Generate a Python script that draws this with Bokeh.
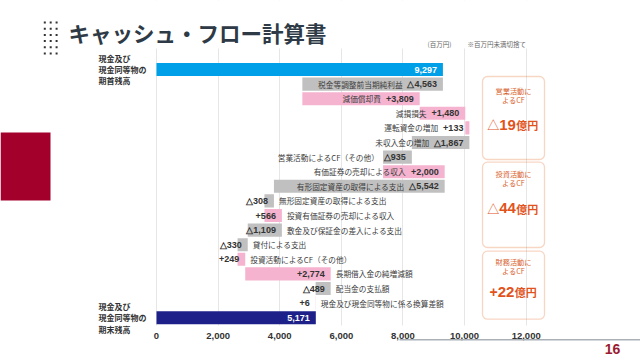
import numpy as np
from bokeh.plotting import figure
from bokeh.models import (ColumnDataSource, Range1d, Label, BoxAnnotation, FixedTicker,
                          NumeralTickFormatter, PrintfTickFormatter, LinearAxis)
from bokeh.core.properties import value
from bokeh.embed import file_html
from bokeh.resources import INLINE

# ---------------- data ----------------
title = "キャッシュ・フロー計算書"
unit_note = "(百万円)"
round_note = "※百万円未満切捨て"
page_no = "16"
start_label = "現金及び\n現金同等物の\n期首残高"
end_label = "現金及び\n現金同等物の\n期末残高"
start_balance = 9297
end_balance = 5171
items = ["税金等調整前当期純利益", "減価償却費", "減損損失", "運転資金の増加", "未収入金の増加",
         "営業活動によるCF（その他）", "有価証券の売却による収入", "有形固定資産の取得による支出",
         "無形固定資産の取得による支出", "投資有価証券の売却による収入", "敷金及び保証金の差入による支出",
         "貸付による支出", "投資活動によるCF（その他）", "長期借入金の純増減額", "配当金の支払額",
         "現金及び現金同等物に係る換算差額"]
changes = [-4563, 3809, 1480, 133, -1867, -935, 2000, -5542, -308, 566, -1109, -330, 249, 2774, -489, 6]
group_names = ["営業活動に\nよるCF", "投資活動に\nよるCF", "財務活動に\nよるCF"]
group_sizes = [6, 7, 2]
x_ticks = [0, 2000, 4000, 6000, 8000, 10000, 12000]

# ---------------- layout constants (canvas px) ----------------
W, H = 640, 360
X0_PX = 156            # where value 0 sits
FT = 48                # top of grid lines
GB = 325               # bottom of grid lines
FB = 341               # bottom of the plot frame
PX_PER_UNIT = (525.7 - X0_PX) / 12000
ROW_PX = 14.6
ROW0_PX = 69
x_start = -X0_PX / PX_PER_UNIT
x_end = (W - X0_PX) / PX_PER_UNIT
y_top = -ROW0_PX / ROW_PX
y_bot = 17 + (FB - (ROW0_PX + 17 * ROW_PX)) / ROW_PX

PINK = "#f5b3cf"
GRAY = "#c0c0c0"
BLUE = "#00a0e9"
NAVY = "#1d2088"
ORANGE = "#e57c3b"
ORANGE_TXT = "#d8602a"
ORANGE_VAL = "#e2521b"
JP = "Noto Sans CJK JP"
LAT = "Liberation Sans"

p = figure(width=W, height=H, x_range=Range1d(x_start, x_end), y_range=Range1d(y_bot, y_top),
           output_backend="svg", toolbar_location=None,
           min_border_left=0, min_border_right=0, min_border_top=0, min_border_bottom=H - FB)
p.outline_line_color = None
p.background_fill_color = "white"
p.border_fill_color = "white"
p.yaxis.visible = False
p.ygrid.visible = False
p.xgrid.grid_line_color = "#e6e6e6"
p.xgrid.ticker = FixedTicker(ticks=x_ticks)
p.xaxis.ticker = FixedTicker(ticks=x_ticks)
p.xaxis.formatter = NumeralTickFormatter(format="0,0")
p.xaxis.axis_line_color = None
p.xaxis.major_tick_line_color = None
p.xaxis.minor_tick_line_color = None
p.xaxis.major_tick_out = 0
p.xaxis.major_tick_in = 0
p.xaxis.major_label_standoff = -9
p.xaxis.major_label_text_font = LAT
p.xaxis.major_label_text_font_size = "9.5px"
p.xaxis.major_label_text_font_style = "bold"
p.xaxis.major_label_text_color = "#333333"

# page number as a second bottom axis (label only)
foot = LinearAxis(ticker=FixedTicker(ticks=[(612 - X0_PX) / PX_PER_UNIT]),
                  formatter=PrintfTickFormatter(format=page_no))
foot.axis_line_color = None
foot.major_tick_line_color = None
foot.minor_tick_line_color = None
foot.major_tick_out = 0
foot.major_tick_in = 0
foot.major_label_standoff = 2
foot.major_label_text_font = LAT
foot.major_label_text_font_size = "14px"
foot.major_label_text_font_style = "bold"
foot.major_label_text_color = "#9b1b30"
p.add_layout(foot, "below")


# ---------------- helpers for screen-px decorations ----------------
def sx(cx):
    return cx


def sy(cy):
    return FB - cy


def lab(text, cx, cy, size, color, font=JP, style="normal", align="left", lh=1.2):
    p.add_layout(Label(x=sx(cx), y=sy(cy), x_units="screen", y_units="screen", text=text,
                       text_font=font, text_font_size=f"{size}px", text_font_style=style,
                       text_color=color, text_align=align, text_baseline="middle", text_line_height=lh))


def box(l, t, r, b, fill, fill_alpha=1.0, line=None, lw=1.0, radius=0, level="annotation"):
    p.add_layout(BoxAnnotation(left=sx(l), right=sx(r), top=sy(t), bottom=sy(b),
                               left_units="screen", right_units="screen",
                               top_units="screen", bottom_units="screen",
                               fill_color=fill, fill_alpha=fill_alpha, line_color=line,
                               line_width=lw, border_radius=radius, level=level))


# masks: grid lines only between FT and GB
box(0, 0, W, FT, "white", level="underlay")
box(0, GB, W, FB + 1, "white", level="underlay")

# ---------------- waterfall computation ----------------
ch = np.array(changes)
cum = start_balance + np.cumsum(ch)
prev = np.concatenate([[start_balance], cum[:-1]])
lefts = np.minimum(prev, cum)
rights = np.maximum(prev, cum)
rows = np.arange(1, len(changes) + 1)
n_rows = len(changes) + 2

bar_left = [0] + list(lefts) + [0]
bar_right = [start_balance] + list(rights) + [end_balance]
bar_y = [0] + list(rows) + [n_rows - 1]
bar_color = [BLUE] + [PINK if c > 0 else GRAY for c in changes] + [NAVY]
p.hbar(y=bar_y, left=bar_left, right=bar_right, height=0.9, color=bar_color, line_color=None)


def fmt(v):
    return f"+{v:,}" if v > 0 else f"△{-v:,}"


def text_w(s, size):
    w = 0.0
    for c in s:
        if c.isdigit():
            w += 0.556
        elif c == ",":
            w += 0.278
        elif c == "+":
            w += 0.584
        else:
            w += 0.75
    return w * size


VAL_SIZE = 9
val_text = [f"{start_balance:,}"] + [fmt(c) for c in changes] + [f"{end_balance:,}"]
val_color = ["white"] + ["#333333"] * len(changes) + ["white"]
vsrc = ColumnDataSource(dict(x=bar_right, y=bar_y, t=val_text, c=val_color))
p.text(x="x", y="y", text="t", source=vsrc, x_offset=-6, text_align="right", text_baseline="middle",
       text_font=value(LAT), text_font_style="bold", text_font_size=f"{VAL_SIZE}px", text_color="c")

label_side = ["left"] * 8 + ["right"] * 8
L = dict(x=[], y=[], t=[], o=[])
R = dict(x=[], y=[], t=[])
for i, name in enumerate(items):
    if label_side[i] == "left":
        L["x"].append(rights[i]); L["y"].append(rows[i]); L["t"].append(name)
        L["o"].append(-(6 + text_w(fmt(changes[i]), VAL_SIZE) + 5))
    else:
        R["x"].append(rights[i]); R["y"].append(rows[i]); R["t"].append(name)
p.text(x="x", y="y", text="t", x_offset="o", source=ColumnDataSource(L), text_align="right",
       text_baseline="middle", text_font=value(JP), text_font_size="7.7px", text_color="#3c3c3c")
p.text(x="x", y="y", text="t", x_offset=5, source=ColumnDataSource(R), text_align="left",
       text_baseline="middle", text_font=value(JP), text_font_size="7.7px", text_color="#3c3c3c")

# ---------------- decorations ----------------
lab(title, 68, 32, 21.5, "#2e3a46", style="bold")
for r_ in range(6):
    for c_ in range(3):
        cx = 44.3 + c_ * 5.9
        cy = 22 + r_ * 6.2
        box(cx - 1, cy - 1, cx + 1, cy + 1, "#333333")
box(0, 132, 50, 200, "#a3002b")
lab(unit_note, 427, 43, 6.5, "#666666")
lab(round_note, 467, 43, 6.5, "#666666")
# footer rule
box(399, 338.4, W, 339.9, "#a9b0b8")

for txt, row in ((start_label, 0), (end_label, n_rows - 1)):
    p.add_layout(Label(x=sx(98), y=row, x_units="screen", y_units="data", text=txt,
                       text_font=JP, text_font_size="8px", text_font_style="bold",
                       text_color="#333333", text_align="left", text_baseline="middle",
                       text_line_height=1.03))

# summary boxes
bounds = np.cumsum([0] + group_sizes)
sums = [int(ch[bounds[i]:bounds[i + 1]].sum()) for i in range(len(group_sizes))]
box_tb = [(76, 159), (161.7, 247), (250.7, 318.7)]
cap_dy = [19, 16, 15.5]
val_dy = [48, 46, 40.5]
BX0, BX1 = 482, 544
BCX = (BX0 + BX1) / 2
for i, (t, b) in enumerate(box_tb):
    box(BX0, t, BX1, b, "white", fill_alpha=0.0, line=ORANGE, lw=1.3, radius=5)
    lab(group_names[i], BCX, t + cap_dy[i], 7.2, ORANGE_TXT, align="center", lh=0.93)
    s = sums[i]
    sign = "△" if s < 0 else "+"
    num = str(abs(s) // 100)
    sign_w = 10 if s < 0 else 7
    num_w = len(num) * 0.556 * 15
    unit_w = 22
    x0 = BCX - (sign_w + num_w + unit_w) / 2
    cy = t + val_dy[i]
    lab(sign, x0 + sign_w, cy, 12 if s < 0 else 14, ORANGE_VAL, font=(JP if s < 0 else LAT),
        style=("normal" if s < 0 else "bold"), align="right")
    lab(num, x0 + sign_w, cy, 15, ORANGE_VAL, font=LAT, style="bold")
    lab("億円", x0 + sign_w + num_w + 0.5, cy + 0.5, 11, ORANGE_VAL, style="bold")

open("out.html", "w").write(file_html(p, INLINE))
